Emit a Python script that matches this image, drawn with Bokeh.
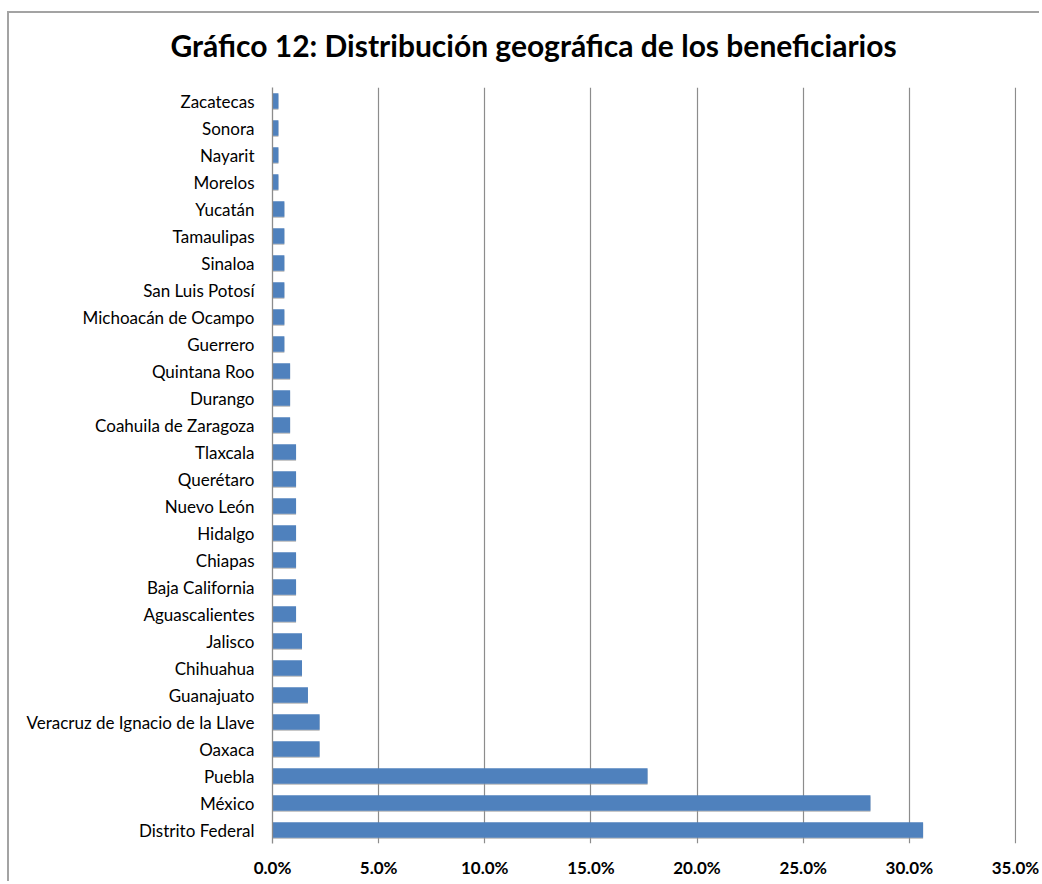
from bokeh.plotting import figure
from bokeh.models import ColumnDataSource, FactorRange, Range1d, FixedTicker, PrintfTickFormatter, Title
from bokeh.transform import dodge
from bokeh.embed import file_html
from bokeh.resources import INLINE

title_text = "Gráfico 12: Distribución geográfica de los beneficiarios"

# bottom-to-top order
states = [
    "Distrito Federal", "México", "Puebla", "Oaxaca",
    "Veracruz de Ignacio de la Llave", "Guanajuato", "Chihuahua", "Jalisco",
    "Aguascalientes", "Baja California", "Chiapas", "Hidalgo", "Nuevo León",
    "Querétaro", "Tlaxcala", "Coahuila de Zaragoza", "Durango", "Quintana Roo",
    "Guerrero", "Michoacán de Ocampo", "San Luis Potosí", "Sinaloa",
    "Tamaulipas", "Yucatán", "Morelos", "Nayarit", "Sonora", "Zacatecas",
]
share_pct = [
    30.65, 28.17, 17.67, 2.22,
    2.22, 1.67, 1.39, 1.39,
    1.11, 1.11, 1.11, 1.11, 1.11,
    1.11, 1.11, 0.83, 0.83, 0.83,
    0.56, 0.56, 0.56, 0.56,
    0.56, 0.56, 0.28, 0.28, 0.28, 0.28,
]
x_ticks = [0, 5, 10, 15, 20, 25, 30, 35]

FONT = "Lato"
BAR = "#4F81BD"
GRID = "#8C8C8C"

src = ColumnDataSource(dict(state=states, share=share_pct))

p = figure(
    width=1032, height=870,
    y_range=FactorRange(factors=states, range_padding=0),
    x_range=Range1d(0, 35.05),
    output_backend="svg", toolbar_location=None,
    min_border_left=263, min_border_right=25, min_border_top=0, min_border_bottom=40,
)
p.styles = {"margin-top": "11px", "margin-left": "7px",
            "border-top": "2px solid #a3a3a3", "border-left": "2px solid #a3a3a3"}
p.outline_line_color = None
p.background_fill_color = "white"
p.border_fill_color = "white"

# subtle shadow under the bars
p.hbar(y=dodge("state", -0.045, range=p.y_range), right="share", left=0, height=0.58,
       source=src, fill_color="#9a9a9a", fill_alpha=0.55, line_color=None)
p.hbar(y="state", right="share", left=0, height=0.58, source=src,
       fill_color=BAR, line_color=None)

# axes
p.xaxis.ticker = FixedTicker(ticks=x_ticks)
p.xaxis.formatter = PrintfTickFormatter(format="%.1f%%")
p.xaxis.axis_line_color = None
p.xaxis.major_tick_line_color = None
p.xaxis.minor_tick_line_color = None
p.xaxis.major_label_text_font = FONT
p.xaxis.major_label_text_font_style = "bold"
p.xaxis.major_label_text_font_size = "17px"
p.xaxis.major_label_text_color = "#000000"
p.xaxis.major_label_standoff = 7

p.yaxis.axis_line_color = GRID
p.yaxis.axis_line_width = 1.3
p.yaxis.major_tick_line_color = None
p.yaxis.minor_tick_line_color = None
p.yaxis.major_label_text_font = FONT
p.yaxis.major_label_text_font_size = "17px"
p.yaxis.major_label_text_color = "#000000"
p.yaxis.major_label_standoff = 12

p.xgrid.ticker = FixedTicker(ticks=x_ticks[1:])
p.xgrid.grid_line_color = GRID
p.xgrid.grid_line_width = 1.2
p.ygrid.grid_line_color = None

# spacer panel between title and plot area
p.add_layout(Title(text=" ", text_font_size="8px", standoff=3), "above")
p.add_layout(Title(text=title_text, align="left", offset=-102, standoff=22,
                   text_font=FONT, text_font_style="bold", text_font_size="30px",
                   text_color="#000000"), "above")

open("out.html", "w").write(file_html(p, INLINE))
